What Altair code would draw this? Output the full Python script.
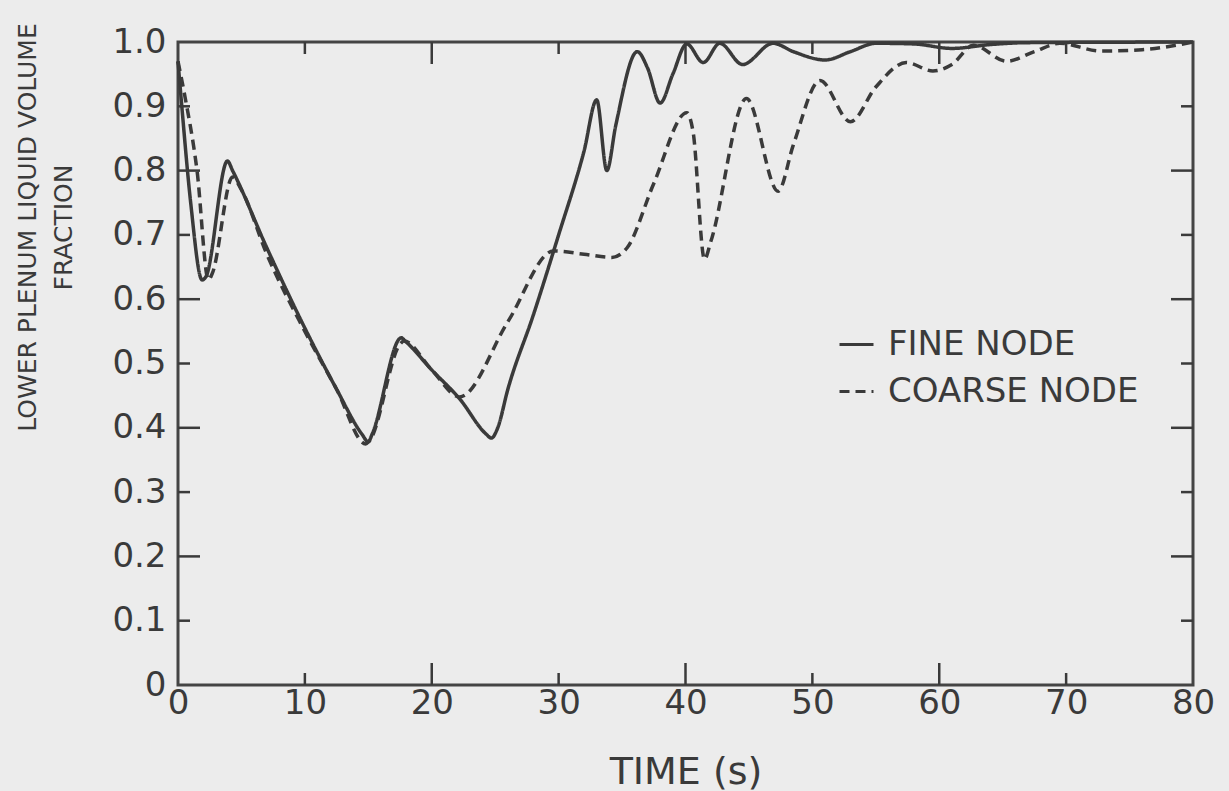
import altair as alt
import pandas as pd

# ---- data ----
fine_t = [0, 0.3, 1.0, 1.9, 2.2, 3.9, 4.3, 7, 10, 12.5, 14.5, 15.0, 15.3, 17.6, 17.9, 20, 22.2,
          24.3, 24.7, 25.2, 26, 28, 30, 32, 33.0, 33.8, 34.5, 36.2, 37, 38.0, 39, 40.1, 41.4,
          42.7, 44.5, 46.9, 48.5, 51, 53, 55, 58, 61, 64, 67, 80]
fine_v = [0.97, 0.90, 0.75, 0.63, 0.635, 0.815, 0.80, 0.68, 0.555, 0.46, 0.39, 0.378, 0.39, 0.54,
          0.535, 0.49, 0.445, 0.39, 0.384, 0.40, 0.46, 0.575, 0.70, 0.83, 0.91, 0.80, 0.87, 0.985,
          0.96, 0.905, 0.95, 0.997, 0.968, 0.998, 0.965, 0.998, 0.985, 0.972, 0.985, 0.998, 0.997,
          0.99, 0.996, 0.999, 1.0]

coarse_t = [0, 0.5, 1.5, 2.4, 2.7, 4.3, 5, 7, 10, 12.5, 14.8, 15.1, 17.5, 17.8, 20, 22.2, 26,
            29.6, 32, 34.2, 35.4, 37.5, 40.1, 40.6, 41.5, 42.0, 44.8, 47.3, 48.5, 50.6, 53.0, 55,
            57.4, 59.5, 61, 62.7, 65.3, 67.5, 69.5, 72.7, 76, 78.7, 80]
coarse_v = [0.97, 0.92, 0.80, 0.63, 0.64, 0.79, 0.77, 0.67, 0.55, 0.46, 0.375, 0.38, 0.53, 0.535,
            0.49, 0.448, 0.565, 0.675, 0.67, 0.665, 0.68, 0.78, 0.89, 0.86, 0.662, 0.69, 0.912,
            0.768, 0.84, 0.94, 0.876, 0.93, 0.968, 0.955, 0.965, 0.995, 0.97, 0.985, 0.998, 0.986,
            0.988, 0.995, 1.0]

series_names = ["FINE NODE", "COARSE NODE"]

x_label_values = [0, 10, 20, 30, 40, 50, 60, 70, 80]
y_label_values = [0, 0.1, 0.2, 0.3, 0.4, 0.5, 0.6, 0.7, 0.8, 0.9, 1.0]
x_minor_ticks = [10, 30, 50, 70]
x_major_ticks = [20, 40, 60]
y_minor_ticks = [0.1, 0.3, 0.5, 0.7, 0.9]
y_major_ticks = [0.2, 0.4, 0.6, 0.8]

# ---- layout ----
W, H = 1015, 643
FONT = "DejaVu Sans"
INK = "#3a3a3a"
MINOR, MAJOR = 12, 22

df = pd.concat([
    pd.DataFrame({"t": fine_t, "v": fine_v, "series": series_names[0]}),
    pd.DataFrame({"t": coarse_t, "v": coarse_v, "series": series_names[1]}),
])

xs = alt.Scale(domain=[0, 80], nice=False, zero=False)
ys = alt.Scale(domain=[0, 1], nice=False, zero=False)

x_axis = alt.Axis(values=x_label_values, title="TIME (s)", grid=False, ticks=False,
                  tickSize=0, domain=False, labelFontSize=34, labelPadding=1,
                  labelFont=FONT, labelColor=INK, titleFont=FONT, titleFontSize=38,
                  titleFontWeight="normal", titleColor=INK, titleY=98,
                  titleBaseline="alphabetic", labelFlush=False)
y_axis = alt.Axis(values=y_label_values, grid=False, ticks=False, tickSize=0,
                  domain=False, labelFontSize=34, labelPadding=12, labelFont=FONT,
                  labelColor=INK, labelFlush=False,
                  labelExpr="datum.value == 0 ? '0' : format(datum.value, '.1f')",
                  title=["LOWER PLENUM LIQUID VOLUME", "FRACTION"],
                  titleFont=FONT, titleFontSize=25, titleFontWeight="normal",
                  titleColor=INK, titleAngle=270, titleX=-163, titleY=185,
                  titleAlign="center", titleBaseline="top", titleLineHeight=36)

lines = alt.Chart(df).mark_line(interpolate="monotone", strokeWidth=3.5, color=INK).encode(
    x=alt.X("t:Q", scale=xs, axis=x_axis),
    y=alt.Y("v:Q", scale=ys, axis=y_axis),
    strokeDash=alt.StrokeDash("series:N",
                              scale=alt.Scale(domain=series_names, range=[[1, 0], [10, 6]]),
                              sort=series_names,
                              legend=alt.Legend(title=None, orient="none", legendX=660,
                                                legendY=284, symbolType="stroke",
                                                symbolSize=1156, symbolStrokeWidth=3,
                                                symbolStrokeColor=INK, labelFont=FONT,
                                                labelFontSize=34, labelColor=INK,
                                                labelLimit=500,
                                                labelOffset=13, rowPadding=11, padding=0)),
)

def xticks(vals, length, top):
    d = pd.DataFrame({"t": vals})
    if top:
        yy, yy2 = alt.value(0), alt.value(length)
    else:
        yy, yy2 = alt.value(H), alt.value(H - length)
    return alt.Chart(d).mark_rule(color=INK, strokeWidth=2.5).encode(
        x=alt.X("t:Q", scale=xs, axis=x_axis), y=yy, y2=yy2)

def yticks(vals, length, right):
    d = pd.DataFrame({"v": vals})
    if right:
        xx, xx2 = alt.value(W), alt.value(W - length)
    else:
        xx, xx2 = alt.value(0), alt.value(length)
    return alt.Chart(d).mark_rule(color=INK, strokeWidth=2.5).encode(
        y=alt.Y("v:Q", scale=ys, axis=y_axis), x=xx, x2=xx2)

ticks = [
    xticks(x_minor_ticks, MINOR, False), xticks(x_major_ticks, MAJOR, False),
    xticks(x_minor_ticks, MINOR, True), xticks(x_major_ticks, MAJOR, True),
    yticks(y_minor_ticks, MINOR, False), yticks(y_major_ticks, MAJOR, False),
    yticks(y_minor_ticks, MINOR, True), yticks(y_major_ticks, MAJOR, True),
]

chart = alt.layer(lines, *ticks).properties(
    width=W, height=H,
    autosize=alt.AutoSizeParams(type="none"),
    padding={"left": 178, "top": 42, "right": 36, "bottom": 106},
    background="#ececec",
).configure_view(stroke="#444444", strokeWidth=3)

chart.save("out.html", embed_options={"renderer": "svg", "actions": False})
